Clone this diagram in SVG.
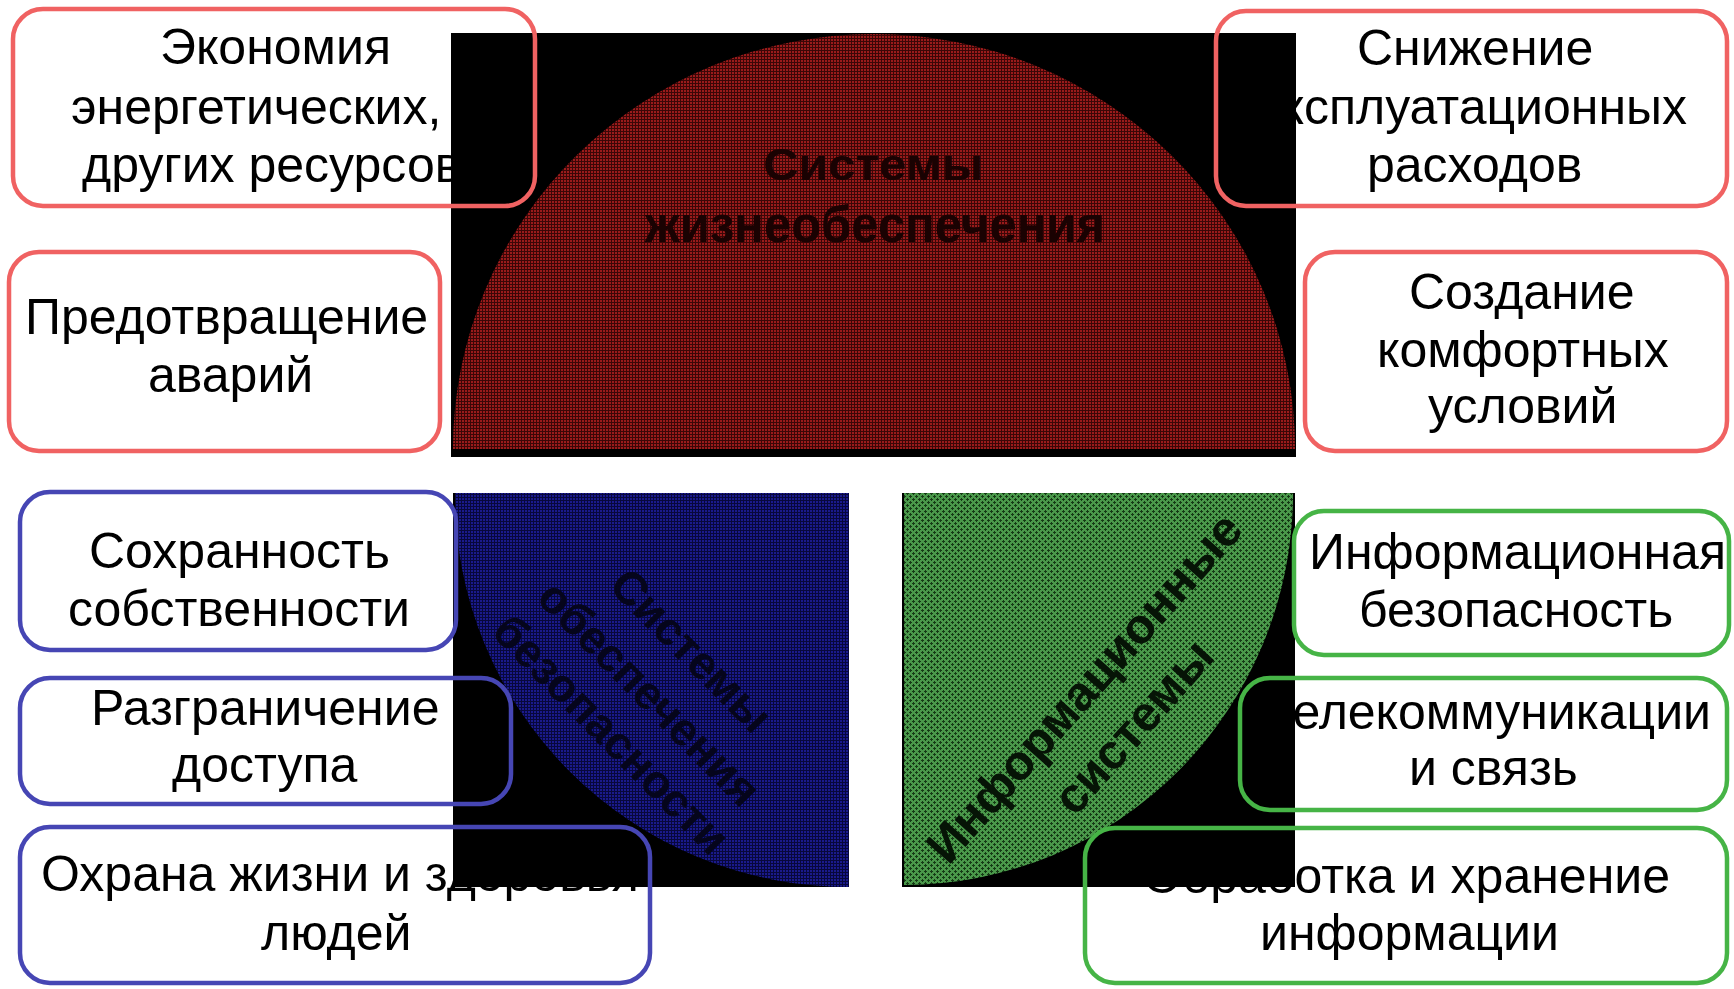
<svg xmlns="http://www.w3.org/2000/svg" width="1734" height="989" viewBox="0 0 1734 989">
<style>
.lbl{font-family:"Liberation Sans",Arial,sans-serif;font-size:50px;fill:#000}
.bg{fill:#fff;stroke:none}
.fr{fill:none;stroke-width:4.5}
.red{stroke:#f06262}
.blue{stroke:#4646b4}
.green{stroke:#46b446}
.ttl{font-family:"Liberation Sans",Arial,sans-serif;font-weight:bold;text-anchor:middle}
</style>
<defs>
<pattern id="pRed" width="3" height="3" patternUnits="userSpaceOnUse"><rect width="3" height="3" fill="#3c0707"/><rect width="2" height="2" fill="#9a1b1b"/></pattern>
<pattern id="pBlue" width="3" height="3" patternUnits="userSpaceOnUse"><rect width="3" height="3" fill="#08083c"/><rect width="2" height="2" fill="#1a1a8c"/></pattern>
<pattern id="pGreen" width="6" height="6" patternUnits="userSpaceOnUse"><rect width="6" height="6" fill="#4a984a"/><path d="M1 0h1v1h1v1h-1v1h-1v-1h-1v-1h1z M4 3h1v1h1v1h-1v1h-1v-1h-1v-1h1z" fill="#153a15"/></pattern>
</defs>
<rect width="1734" height="989" fill="#fff"/>

<g id="node-economy"><rect class="bg" x="13" y="9" width="522" height="197" rx="30"/>
<text class="lbl" x="160" y="64">Экономия</text><text class="lbl" x="71" y="124">энергетических,</text><text class="lbl" x="82" y="182">других ресурсов</text></g>
<g id="node-accidents"><rect class="bg" x="9" y="252" width="431" height="199" rx="30"/>
<text class="lbl" x="25" y="334">Предотвращение</text><text class="lbl" x="148" y="392">аварий</text></g>
<g id="node-costs"><rect class="bg" x="1216" y="11" width="511" height="195" rx="30"/>
<text class="lbl" x="1357" y="65">Снижение</text><text class="lbl" x="1687" y="124" text-anchor="end">эксплуатационных</text><text class="lbl" x="1367" y="182">расходов</text></g>
<g id="node-comfort"><rect class="bg" x="1305" y="252" width="422" height="199" rx="30"/>
<text class="lbl" x="1409" y="309">Создание</text><text class="lbl" x="1377" y="367">комфортных</text><text class="lbl" x="1428" y="423">условий</text></g>
<g id="node-property"><rect class="bg" x="20" y="492" width="436" height="158" rx="30"/>
<text class="lbl" x="89" y="568">Сохранность</text><text class="lbl" x="68" y="626">собственности</text></g>
<g id="node-access"><rect class="bg" x="20" y="678" width="491" height="126" rx="30"/>
<text class="lbl" x="91" y="725">Разграничение</text><text class="lbl" x="172" y="782">доступа</text></g>
<g id="node-life"><rect class="bg" x="20" y="827" width="630" height="156" rx="30"/>
<text class="lbl" x="41" y="891">Охрана жизни и здоровья</text><text class="lbl" x="261" y="950">людей</text></g>
<g id="node-infosec"><rect class="bg" x="1294" y="511" width="435" height="144" rx="30"/>
<text class="lbl" x="1309" y="569">Информационная</text><text class="lbl" x="1359" y="627">безопасность</text></g>
<g id="node-telecom"><rect class="bg" x="1240" y="678" width="487" height="132" rx="30"/>
<text class="lbl" x="1711" y="729" text-anchor="end">Телекоммуникации</text><text class="lbl" x="1409" y="785">и связь</text></g>
<g id="node-processing"><rect class="bg" x="1085" y="828" width="642" height="155" rx="30"/>
<text class="lbl" x="1670" y="893" text-anchor="end">Обработка и хранение</text><text class="lbl" x="1260" y="950">информации</text></g>

<g id="panel-life-support">
<rect x="451" y="33" width="845" height="424" fill="#000"/>
<path d="M453 449 A421 415 0 0 1 1295 449 Z" fill="url(#pRed)"/>
<text class="ttl" x="873" y="180" font-size="44" fill="#1a0202" textLength="220" lengthAdjust="spacingAndGlyphs">Системы</text>
<text class="ttl" x="875" y="242" font-size="52" fill="#1a0202" textLength="460" lengthAdjust="spacingAndGlyphs">жизнеобеспечения</text>
</g>
<g id="panel-security">
<rect x="453" y="493" width="396" height="394" fill="#000"/>
<path d="M849 493 L455 493 A394 392 0 0 0 849 887 Z" fill="url(#pBlue)"/>
<g class="ttl" font-size="46" fill="#05051c">
<text transform="translate(689 653) rotate(45.5)" y="12">Системы</text>
<text transform="translate(647 696) rotate(45.5)" y="12">обеспечения</text>
<text transform="translate(609 737) rotate(45.5)" y="12">безопасности</text>
</g>
</g>
<g id="panel-info">
<rect x="902" y="493" width="393" height="394" fill="#000"/>
<path d="M904 493 L1293 493 A389 392 0 0 1 904 885 Z" fill="url(#pGreen)"/>
<g class="ttl" font-size="49" fill="#061406">
<text transform="translate(1087 690) rotate(-48.5)" y="13">Информационные</text>
<text transform="translate(1136 729) rotate(-48.5)" y="13">системы</text>
</g>
</g>

<g id="frames">
<rect class="fr red" x="13" y="9" width="522" height="197" rx="30"/>
<rect class="fr red" x="9" y="252" width="431" height="199" rx="30"/>
<rect class="fr red" x="1216" y="11" width="511" height="195" rx="30"/>
<rect class="fr red" x="1305" y="252" width="422" height="199" rx="30"/>
<rect class="fr blue" x="20" y="492" width="436" height="158" rx="30"/>
<rect class="fr blue" x="20" y="678" width="491" height="126" rx="30"/>
<rect class="fr blue" x="20" y="827" width="630" height="156" rx="30"/>
<rect class="fr green" x="1294" y="511" width="435" height="144" rx="30"/>
<rect class="fr green" x="1240" y="678" width="487" height="132" rx="30"/>
<rect class="fr green" x="1085" y="828" width="642" height="155" rx="30"/>
</g>
</svg>
